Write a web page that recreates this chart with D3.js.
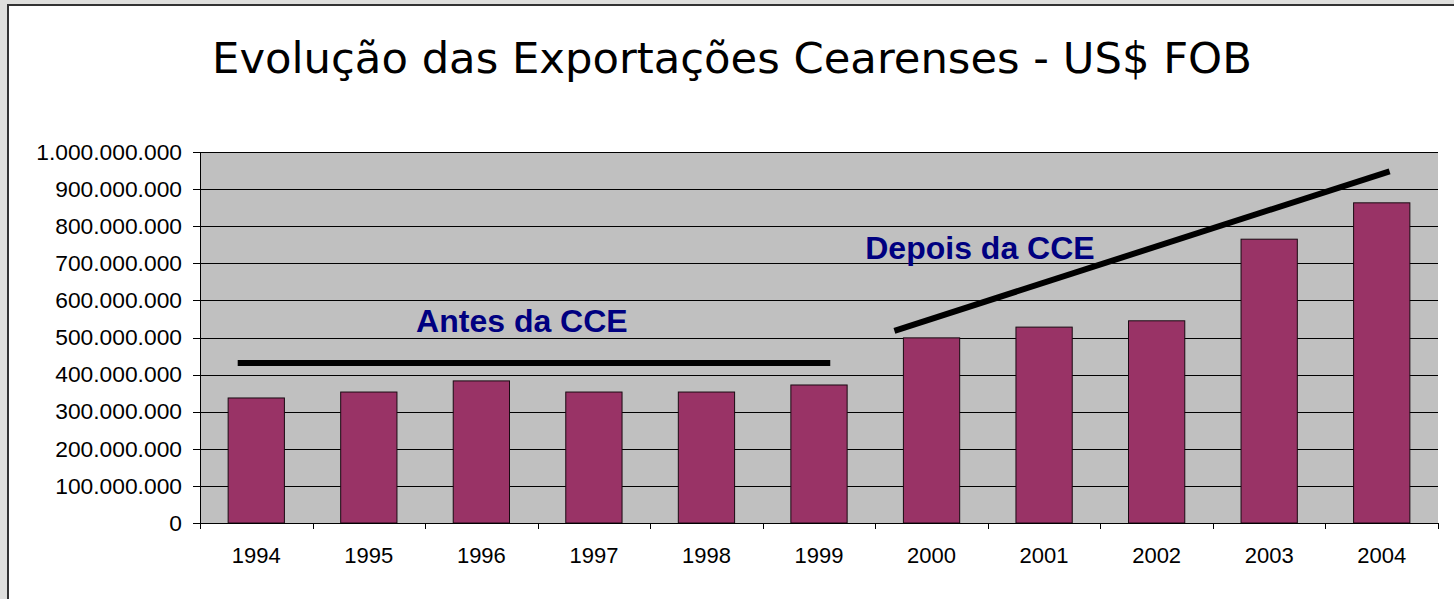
<!DOCTYPE html>
<meta charset="utf-8">
<head>
    <meta charset="utf-8">
    <title>Evolução das Exportações Cearenses</title>
    <script src="https://d3js.org/d3.v7.min.js" charset="utf-8"></script>
    <style>
        html, body {
            margin: 0;
            padding: 0;
            background: #dfdfdd;
            overflow: hidden;
        }
        .grid line {
            stroke: #000;
            stroke-width: 1px;
            shape-rendering: crispEdges;
        }
        .axis path, .axis line {
            stroke: #000;
            shape-rendering: crispEdges;
        }
        .axis text {
            font-family: "Liberation Sans", Arial, sans-serif;
            font-size: 22px;
            fill: #000;
        }
        .y-axis text {
            font-size: 22.8px;
        }
        .bar {
            fill: #993366;
            stroke: #1a0a12;
            stroke-width: 1px;
        }
        .trend {
            stroke: #000;
            stroke-width: 6px;
            fill: none;
        }
        .note {
            font-family: "Liberation Sans", Arial, sans-serif;
            font-weight: bold;
            font-size: 32px;
            fill: #000080;
        }
    </style>
</head>
<body>
<div class="chart"></div>
<script>

// dados
var years = ["1994", "1995", "1996", "1997", "1998", "1999", "2000", "2001", "2002", "2003", "2004"];
var exportsFob = [337e6, 353e6, 383e6, 353e6, 353e6, 372e6, 499e6, 528e6, 545e6, 765e6, 863e6];
var yTicks = [0, 1e8, 2e8, 3e8, 4e8, 5e8, 6e8, 7e8, 8e8, 9e8, 1e9];

// linhas de tendência (posição na escala de categorias, valor)
var antesLine = [[-0.165, 431e6], [5.1, 431e6]];
var depoisLine = [[5.67, 518e6], [10.07, 948e6]];
var noteTexts = ["Antes da CCE", "Depois da CCE"];
var noteAt = [[2.36, 516e6], [6.43, 712e6]];

var W = 1454, H = 599;
var margin = {top: 152, right: 16, bottom: 76, left: 200},
    width = W - margin.left - margin.right,
    height = H - margin.top - margin.bottom;

var svg = d3.select(".chart").append("svg")
    .attr("width", W)
    .attr("height", H);

// fundo do slide
svg.append("rect")
    .attr("x", 8).attr("y", 5)
    .attr("width", W).attr("height", H)
    .attr("fill", "#fff")
    .attr("stroke", "#333")
    .attr("stroke-width", 2);

svg.append("text")
    .attr("x", 732)
    .attr("y", 73)
    .attr("text-anchor", "middle")
    .style("font-family", "'DejaVu Sans', Verdana, sans-serif")
    .style("font-size", "43.3px")
    .style("fill", "#000")
    .text("Evolução das Exportações Cearenses - US$ FOB");

var g = svg.append("g")
    .attr("transform", "translate(" + margin.left + "," + margin.top + ")");

var x = d3.scaleBand()
    .domain(years)
    .range([0, width])
    .paddingInner(0.5)
    .paddingOuter(0.25);

var xi = d3.scaleLinear()
    .domain([-0.5, years.length - 0.5])
    .range([0, width]);

var y = d3.scaleLinear()
    .domain([0, 1e9])
    .range([height, 0]);

var ptBR = d3.formatLocale({decimal: ",", thousands: ".", grouping: [3], currency: ["", ""]});
var fmt = ptBR.format(",d");

// área do gráfico
g.append("rect")
    .attr("width", width)
    .attr("height", height)
    .attr("fill", "#c0c0c0");

g.append("g")
    .attr("class", "grid")
    .selectAll("line")
    .data(yTicks)
    .enter().append("line")
    .attr("x1", 0).attr("x2", width)
    .attr("y1", d => Math.round(y(d)) + 0.5)
    .attr("y2", d => Math.round(y(d)) + 0.5);

g.selectAll(".bar")
    .data(exportsFob)
    .enter().append("rect")
    .attr("class", "bar")
    .attr("x", (d, i) => x(years[i]))
    .attr("width", x.bandwidth())
    .attr("y", d => y(d))
    .attr("height", d => y(0) - y(d));

// eixos
g.append("g")
    .attr("class", "axis y-axis")
    .call(d3.axisLeft(y).tickValues(yTicks).tickSize(7).tickPadding(11).tickFormat(fmt));

g.append("g")
    .attr("class", "axis")
    .attr("transform", "translate(0," + height + ")")
    .call(d3.axisBottom(xi).tickValues(d3.range(-0.5, years.length, 1)).tickSize(6).tickFormat(""))
    .call(a => a.select(".domain").remove());

g.append("g")
    .attr("class", "axis")
    .attr("transform", "translate(0," + height + ")")
    .call(d3.axisBottom(x).tickSize(0).tickPadding(24))
    .call(a => a.select(".domain").attr("d", "M0,0.5H" + width));

// tendências
var line = d3.line()
    .x(d => xi(d[0]))
    .y(d => y(d[1]));

g.selectAll(".trend")
    .data([antesLine, depoisLine])
    .enter().append("path")
    .attr("class", "trend")
    .attr("d", d => line(d));

g.selectAll(".note")
    .data(noteTexts)
    .enter().append("text")
    .attr("class", "note")
    .attr("text-anchor", "middle")
    .attr("x", (d, i) => xi(noteAt[i][0]))
    .attr("y", (d, i) => y(noteAt[i][1]))
    .text(d => d);

</script>
</body>
